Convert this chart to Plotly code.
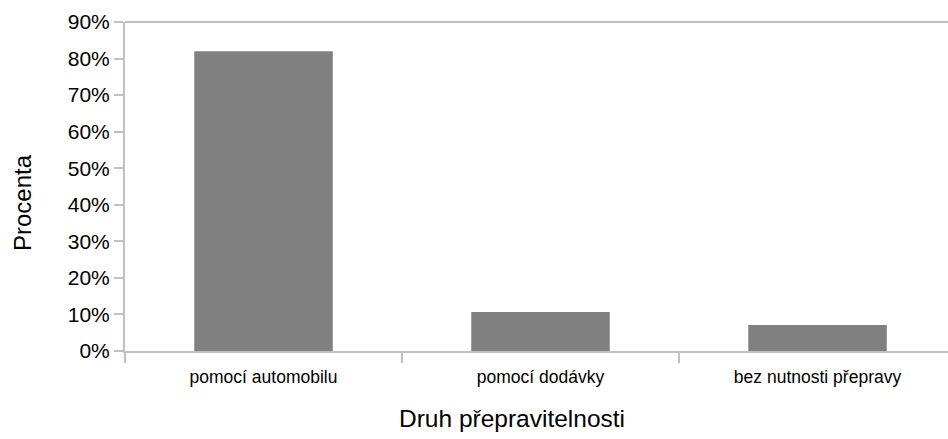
import plotly.graph_objects as go

# Transport categories and their shares (in percent)
categories = ["pomocí automobilu", "pomocí dodávky", "bez nutnosti přepravy"]
shares = [82.0, 10.7, 7.1]
y_ticks = [0, 10, 20, 30, 40, 50, 60, 70, 80, 90]

axis_grey = "#c0c0c0"
font_family = "Liberation Sans, Arial, sans-serif"

fig = go.Figure(
    go.Bar(
        x=categories,
        y=shares,
        width=0.5,
        marker=dict(color="#808080", line=dict(width=0)),
        hoverinfo="x+y",
    )
)

fig.update_layout(
    width=948,
    height=439,
    margin=dict(l=125, r=0, t=22, b=88),
    paper_bgcolor="white",
    plot_bgcolor="white",
    showlegend=False,
    font=dict(family=font_family, color="black"),
    xaxis=dict(
        type="category",
        range=[-0.5, 2.471],
        tickson="boundaries",
        ticks="outside",
        ticklen=10,
        tickwidth=2,
        tickcolor=axis_grey,
        showline=True,
        linecolor=axis_grey,
        linewidth=2,
        showgrid=False,
        tickfont=dict(size=17.5, family=font_family, color="black"),
        ticklabelstandoff=9,
    ),
    yaxis=dict(
        range=[0, 90],
        tickvals=y_ticks,
        ticktext=[f"{v}%" for v in y_ticks],
        ticks="outside",
        ticklen=9,
        tickwidth=2,
        tickcolor=axis_grey,
        showline=True,
        linecolor=axis_grey,
        linewidth=2,
        showgrid=False,
        zeroline=False,
        tickfont=dict(size=21, family=font_family, color="black"),
    ),
    shapes=[
        dict(
            type="line", xref="paper", yref="paper",
            x0=0, x1=1, y0=1, y1=1,
            line=dict(color=axis_grey, width=2),
        )
    ],
    annotations=[
        dict(
            text="Procenta", xref="paper", yref="paper",
            x=-(125 - 22) / 823, y=(351 - 202) / 329,
            xanchor="center", yanchor="middle", textangle=-90,
            showarrow=False, font=dict(size=24, family=font_family, color="black"),
        ),
        dict(
            text="Druh přepravitelnosti", xref="paper", yref="paper",
            x=(511.5 - 125) / 823, y=-(418 - 351) / 329,
            xanchor="center", yanchor="middle",
            showarrow=False, font=dict(size=24.5, family=font_family, color="black"),
        ),
    ],
)

fig.write_html("out.html")
